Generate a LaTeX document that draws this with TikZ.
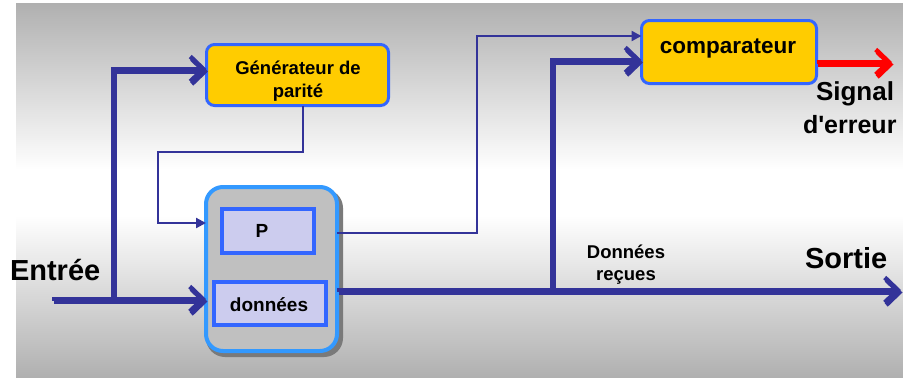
\documentclass[tikz,border=0pt]{standalone}
\usepackage{fontspec}
\setmainfont{Liberation Sans}[Ligatures=TeXOff]
\usetikzlibrary{arrows.meta,shadows,calc}
\definecolor{linecol}{HTML}{333399}
\definecolor{boxborder}{HTML}{3366FF}
\definecolor{memborder}{HTML}{3399FF}
\definecolor{ybfill}{HTML}{FFCC00}
\definecolor{lavfill}{HTML}{CCCCEE}
\definecolor{memfill}{HTML}{C0C0C0}
\definecolor{bggray}{HTML}{B0B0B0}
\definecolor{shadowgray}{HTML}{7A7A7A}
\definecolor{redline}{HTML}{FF0000}
\tikzset{
  chev/.tip={Straight Barb[length=13pt,width=25pt]},
  tri/.tip={Triangle[length=10pt,width=10pt]},
  every node/.style={inner sep=0pt, outer sep=0pt},
  lbl/.style={font=\bfseries\fontsize{#1}{#1}\selectfont},
  yellowbox/.style={draw=boxborder, fill=ybfill, line width=3pt, rounded corners=8pt},
  membox/.style={draw=memborder, fill=memfill, line width=4pt, rounded corners=17pt},
  regbox/.style={draw=boxborder, fill=lavfill, line width=4pt},
  boxshadow/.style={fill=shadowgray, draw=none},
  thickline/.style={draw=linecol, line width=4.5pt},
  redthick/.style={draw=redline, line width=4.5pt},
  shadowline/.style={draw=shadowgray, line width=4.5pt, transform canvas={shift={(1.5pt,-2.5pt)}}},
  thinline/.style={draw=linecol, line width=2.2pt},
}
\newcommand\shadowdraw[2]{\draw[shadowline, #1] #2; \draw[#1] #2;}
\begin{document}
\begin{tikzpicture}[x=1pt,y=-1pt]
\useasboundingbox (0,0) rectangle (903,378);
% background
\fill[white] (0,0) rectangle (903,378);
\shade[top color=bggray, bottom color=white] (16,3) rectangle (903,170);
\fill[white] (16,170) rectangle (903,215);
\shade[top color=white, bottom color=bggray] (16,215) rectangle (903,377);

% box shadows
\fill[boxshadow, rounded corners=19pt] (206,189) rectangle (343,357);
\fill[boxshadow] (222,211) rectangle (318,258);
\fill[boxshadow] (214,284) rectangle (330,330);

% boxes
\node[yellowbox, minimum width=182pt, minimum height=61pt] (gen) at (297.5,75) {};
\node[lbl=18.5, anchor=base] (gen1) at (298,74) {Générateur de};
\node[lbl=18.5, anchor=base] (gen2) at (298,97) {parité};

\node[yellowbox, minimum width=175pt, minimum height=63pt] (comp) at (729,52) {};
\node[lbl=22.5, anchor=base] (compt) at (728,53) {comparateur};

\node[membox, minimum width=131pt, minimum height=164pt] (mem) at (271.5,269) {};
\node[regbox, minimum width=92pt, minimum height=44pt] (P) at (268,231) {};
\node[lbl=19, anchor=base] (Pt) at (262,237) {P};
\node[regbox, minimum width=112pt, minimum height=43pt] (don) at (270,303.5) {};
\node[lbl=19, anchor=base] (dont) at (269,311) {données};

% coordinates
\coordinate (ein) at (52,299);
\coordinate (br1) at (113,299);
\coordinate (t1) at (158,152);
\coordinate (t2) at (158,223);
\coordinate (outy) at (341,290);
\coordinate (br2) at (552,290);
\coordinate (t3) at (477,36);
\coordinate (t4) at (477,233);
\coordinate (sortie) at (901,290);
\coordinate (errend) at (892,62);

% connectors
\shadowdraw{thickline, -chev}{(br1) |- ([yshift=6pt]gen.west)}
\shadowdraw{thickline, -chev}{(ein) -- (mem.west |- ein)}
\draw[thinline, -tri] ([xshift=5.5pt]gen.south) |- (t1) -- (t2) -- (mem.west |- t2);
\shadowdraw{thickline, -chev}{(br2) |- ([yshift=-8pt]comp.west)}
\shadowdraw{thickline, -chev}{(mem.east |- outy) -- (sortie)}
\draw[thinline, -tri] (mem.east |- t4) -- (t4) -- (t3) -- (comp.west |- t3);
\shadowdraw{redthick, -chev}{([yshift=-10pt]comp.east) -- (errend)}

% labels
\node[lbl=29, anchor=base west] (entree) at (10,280) {Entrée};
\node[lbl=29, anchor=base west] (sortiet) at (805,268) {Sortie};
\node[lbl=26, anchor=base] (sig1) at (855,100) {Signal};
\node[lbl=25, anchor=base west] (sig2) at (803,133) {d'erreur};
\node[lbl=18.5, anchor=base] (rec1) at (626,258) {Données};
\node[lbl=18.5, anchor=base] (rec2) at (626,280) {reçues};
\end{tikzpicture}
\end{document}
